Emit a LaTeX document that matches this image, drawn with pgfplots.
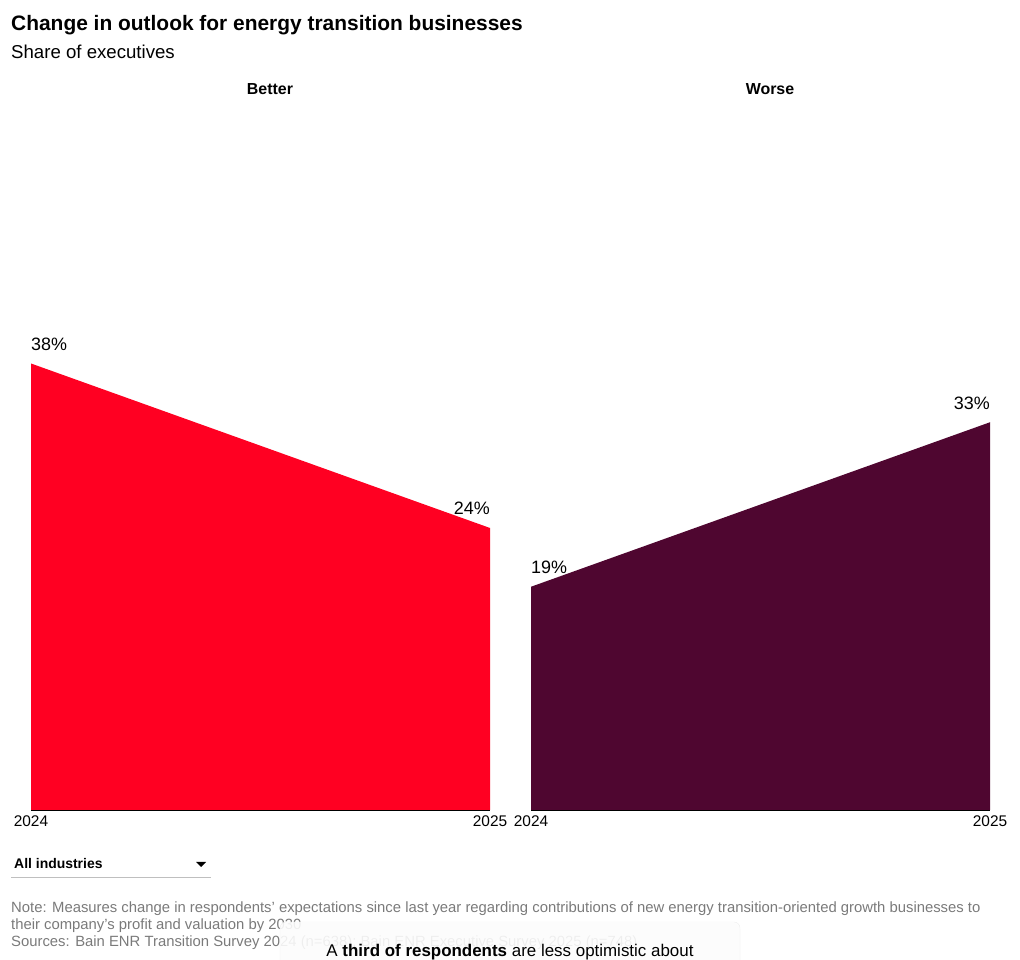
\documentclass[border=0pt]{standalone}
\usepackage{pgfplots}
\pgfplotsset{compat=1.18}
\usepackage{fontspec}
\setmainfont{Liberation Sans}
\usetikzlibrary{shadows}
\definecolor{bred}{HTML}{FF0022}
\definecolor{bpurple}{HTML}{4F0630}
\definecolor{notegray}{HTML}{7A7A7A}
\pgfplotsset{
  panel/.style={
    scale only axis, width=459bp, height=705bp,
    anchor=south west,
    xmin=0, xmax=1, ymin=0, ymax=60,
    axis y line=none, axis x line=bottom,
    x axis line style={black, line width=0.8pt, -},
    xtick={0,1}, xticklabels={2024,2025},
    major tick length=0pt,
    xticklabel style={font=\fontsize{15.5}{18}\selectfont, anchor=base, yshift=-17bp},
    clip=false,
  }
}
\begin{document}
\begin{tikzpicture}[x=1bp,y=1bp]
\path[use as bounding box] (0,0) rectangle (1020,960);
\node[anchor=base west, inner sep=0, font=\fontsize{21}{24}\selectfont\bfseries] at (11,929) {Change in outlook for energy transition businesses};
\node[anchor=base west, inner sep=0, font=\fontsize{18.7}{22}\selectfont] at (11,901) {Share of executives};
\node[anchor=base, inner sep=0, font=\fontsize{16}{20}\selectfont\bfseries] at (270,865) {Better};
\node[anchor=base, inner sep=0, font=\fontsize{16}{20}\selectfont\bfseries] at (770,865) {Worse};

\begin{axis}[panel, at={(31bp,150bp)}]
\addplot[fill=bred, draw=none] coordinates {(0,38) (1,24)} \closedcycle;
\node[anchor=base west, inner sep=0, font=\fontsize{18}{22}\selectfont] at (axis cs:0,38) [yshift=13bp] {38\%};
\node[anchor=base east, inner sep=0, font=\fontsize{18}{22}\selectfont] at (axis cs:1,24) [yshift=13bp] {24\%};
\end{axis}
\begin{axis}[panel, at={(531bp,150bp)}]
\addplot[fill=bpurple, draw=none] coordinates {(0,19) (1,33)} \closedcycle;
\node[anchor=base west, inner sep=0, font=\fontsize{18}{22}\selectfont] at (axis cs:0,19) [yshift=13bp] {19\%};
\node[anchor=base east, inner sep=0, font=\fontsize{18}{22}\selectfont] at (axis cs:1,33) [yshift=13bp] {33\%};
\end{axis}

% dropdown
\node[anchor=base west, inner sep=0, font=\fontsize{14}{17}\selectfont\bfseries] at (14,91) {All industries};
\fill (196,98) -- (206,98) -- (201,93) -- cycle;
\draw[gray!50, line width=0.7pt] (11,83) -- (211,83);

% notes
\begin{scope}[every node/.style={anchor=base west, inner sep=0, text=notegray, font=\fontsize{14.9}{17}\selectfont}]
\node at (11,47) {Note: Measures change in respondents’ expectations since last year regarding contributions of new energy transition-oriented growth businesses to};
\node at (11,30) {their company’s profit and valuation by 2030};
\node at (11,13) {Sources: Bain ENR Transition Survey 2024 (n=638); Bain ENR Executive Survey 2025 (n=748)};
\end{scope}

% popup
\fill[white, opacity=0.88, rounded corners=6bp, drop shadow={opacity=0.12, shadow xshift=0bp, shadow yshift=-1bp}] (280,38) rectangle (740,-30);
\draw[gray!15, rounded corners=6bp] (280,38) rectangle (740,-30);
\node[anchor=base, inner sep=0, font=\fontsize{17}{20}\selectfont] at (510,3) {A \textbf{third of respondents} are less optimistic about};
\end{tikzpicture}
\end{document}
